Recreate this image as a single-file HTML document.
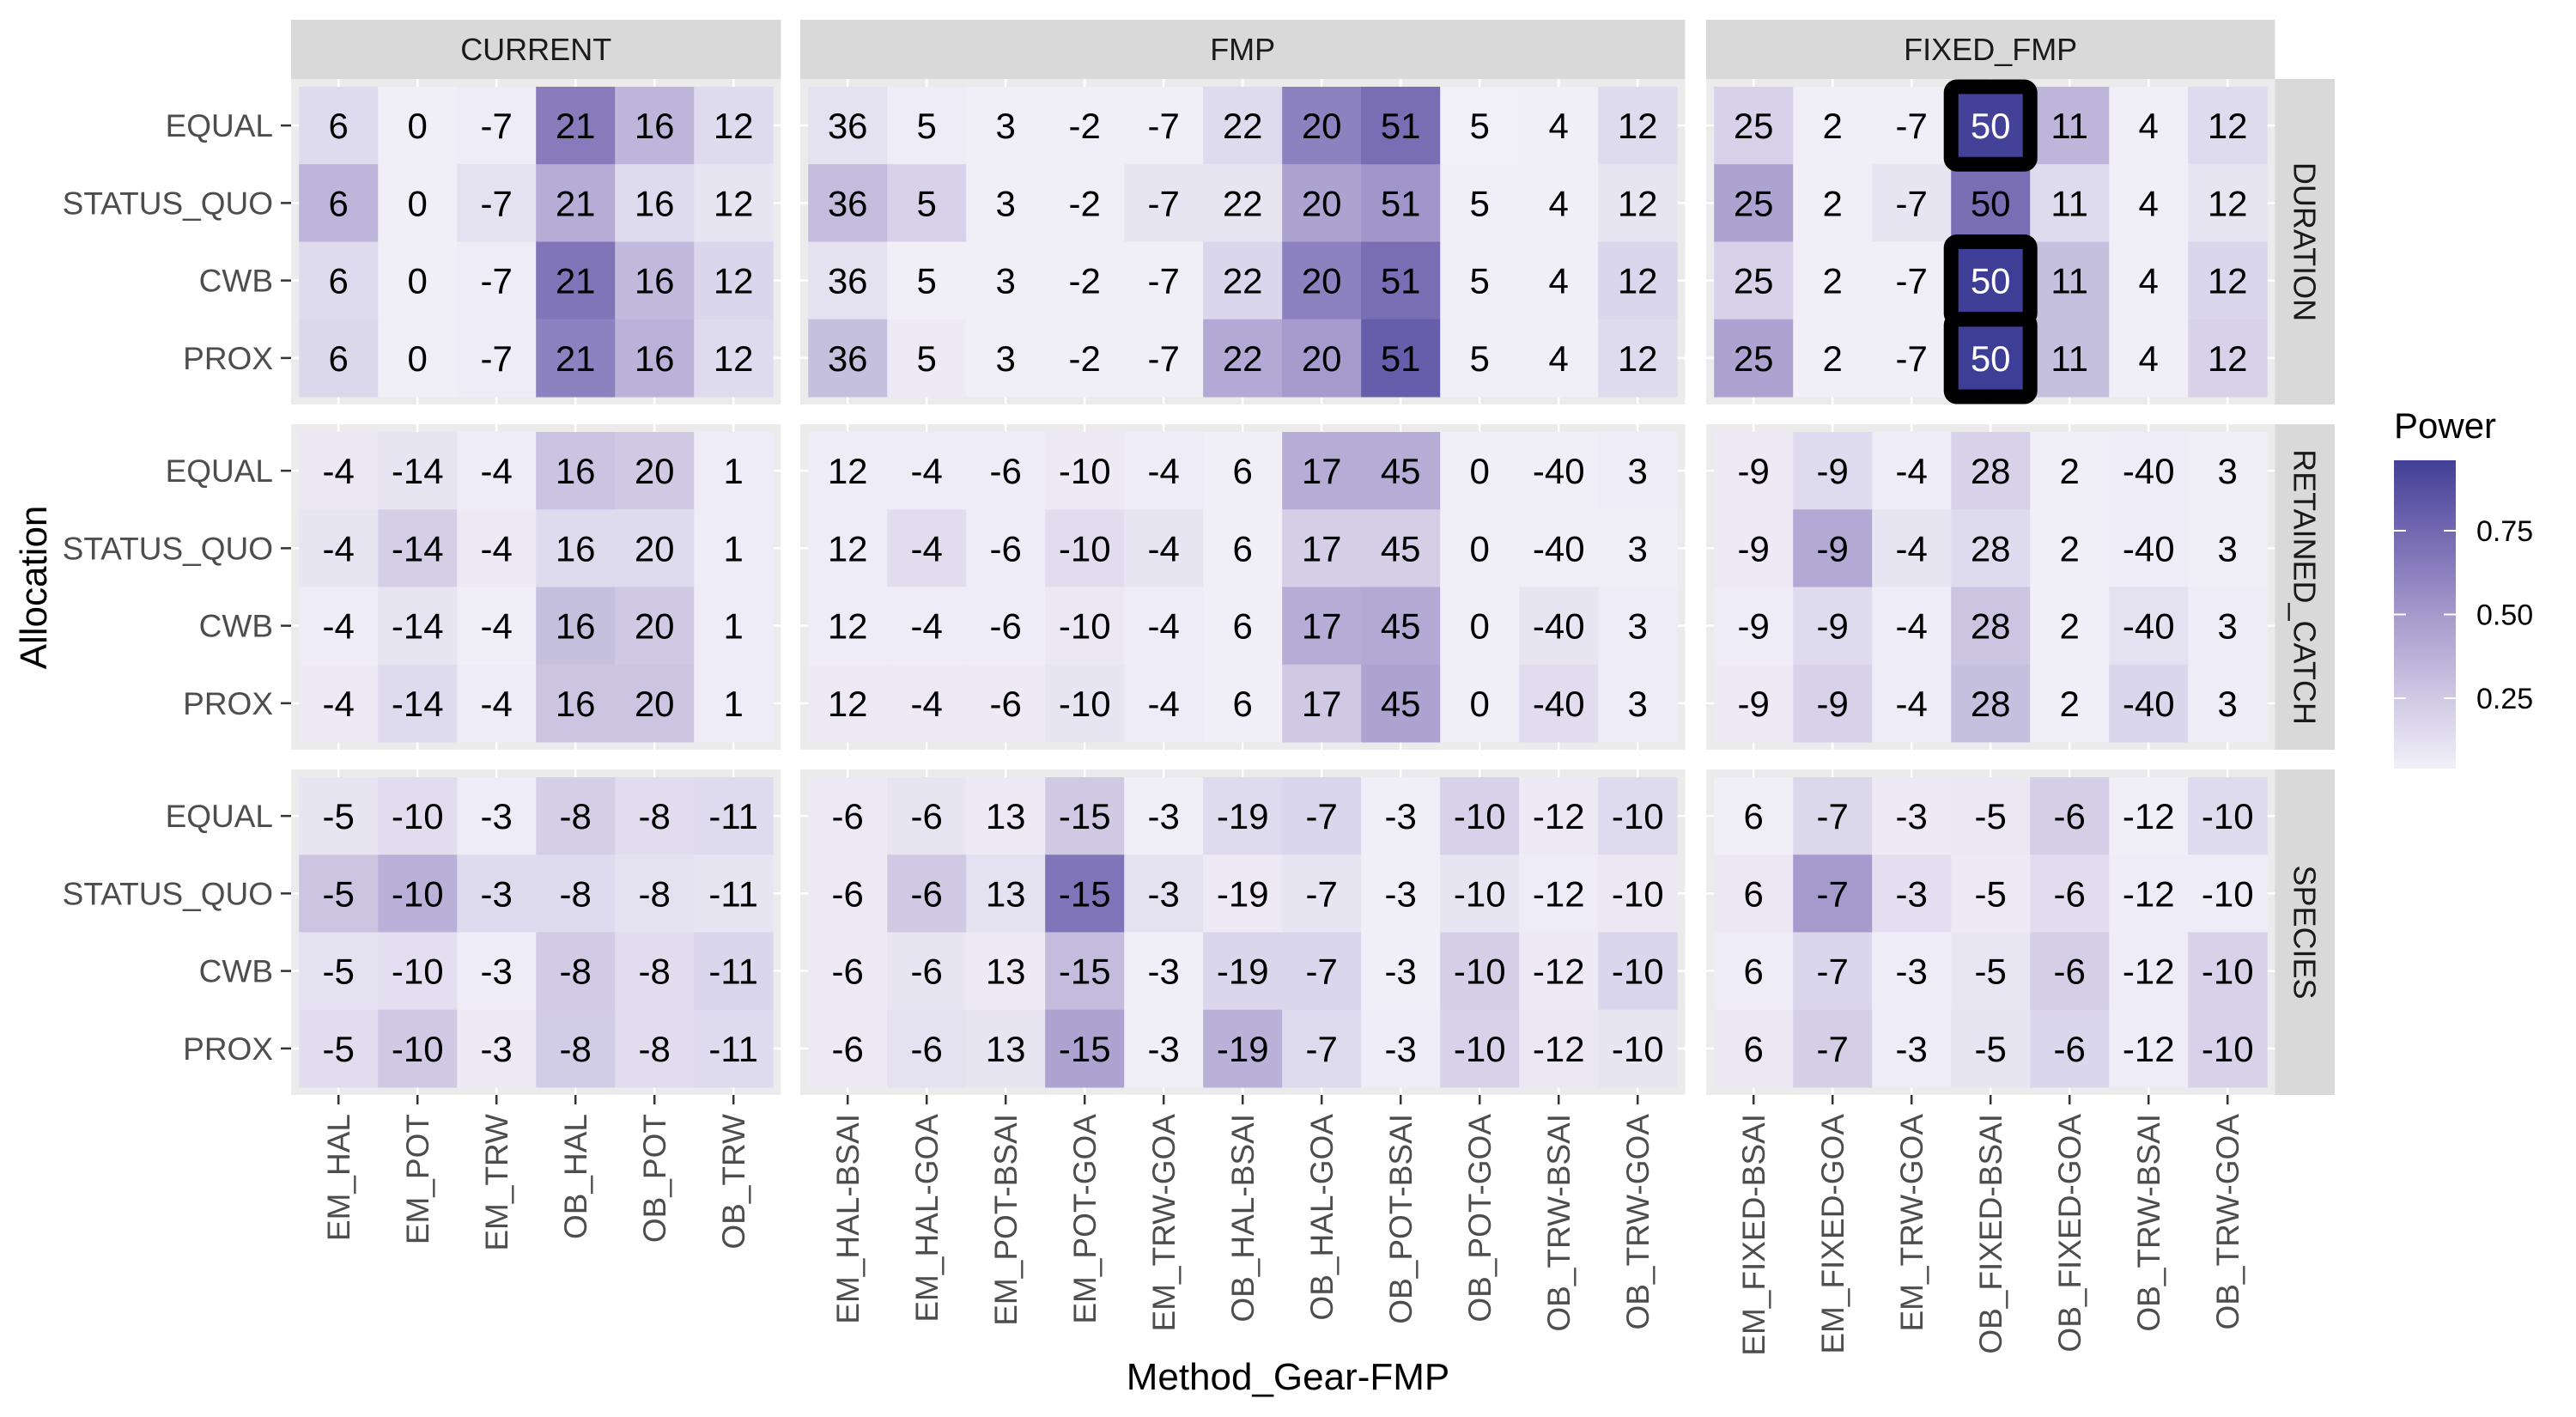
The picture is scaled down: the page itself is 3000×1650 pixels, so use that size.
<!DOCTYPE html>
<html><head><meta charset="utf-8"><style>
html,body{margin:0;padding:0;background:#fff;}
svg{display:block;font-family:"Liberation Sans",Arial,sans-serif;}
</style></head><body>
<svg id="chart" width="3000" height="1650" viewBox="0 0 3000 1650" xmlns="http://www.w3.org/2000/svg">
<g id="panels"></g>
<g id="legend"></g>
</svg>
<script>
// ---- data ----
const rowFacets = ["DURATION","RETAINED_CATCH","SPECIES"];
const colFacets = ["CURRENT","FMP","FIXED_FMP"];
const allocations = ["EQUAL","STATUS_QUO","CWB","PROX"];
const catsCurrent = ["EM_HAL","EM_POT","EM_TRW","OB_HAL","OB_POT","OB_TRW"];
const catsFmp = ["EM_HAL-BSAI","EM_HAL-GOA","EM_POT-BSAI","EM_POT-GOA","EM_TRW-GOA","OB_HAL-BSAI","OB_HAL-GOA","OB_POT-BSAI","OB_POT-GOA","OB_TRW-BSAI","OB_TRW-GOA"];
const catsFixed = ["EM_FIXED-BSAI","EM_FIXED-GOA","EM_TRW-GOA","OB_FIXED-BSAI","OB_FIXED-GOA","OB_TRW-BSAI","OB_TRW-GOA"];
// printed labels (percent change), per row facet x column facet
const labDurCurrent = [6,0,-7,21,16,12];
const labDurFmp = [36,5,3,-2,-7,22,20,51,5,4,12];
const labDurFixed = [25,2,-7,50,11,4,12];
const labRetCurrent = [-4,-14,-4,16,20,1];
const labRetFmp = [12,-4,-6,-10,-4,6,17,45,0,-40,3];
const labRetFixed = [-9,-9,-4,28,2,-40,3];
const labSpCurrent = [-5,-10,-3,-8,-8,-11];
const labSpFmp = [-6,-6,13,-15,-3,-19,-7,-3,-10,-12,-10];
const labSpFixed = [6,-7,-3,-5,-6,-12,-10];
// power values, rows = allocations
const powDurCurrent = [[0.15,0.05,0.06,0.65,0.35,0.15],[0.35,0.05,0.12,0.40,0.15,0.10],[0.15,0.05,0.06,0.68,0.33,0.18],[0.17,0.05,0.06,0.62,0.37,0.15]];
const powDurFmp = [[0.12,0.06,0.05,0.05,0.05,0.15,0.62,0.72,0.04,0.05,0.15],[0.32,0.20,0.05,0.05,0.10,0.10,0.45,0.52,0.05,0.05,0.10],[0.12,0.05,0.05,0.05,0.05,0.18,0.62,0.72,0.05,0.05,0.18],[0.30,0.07,0.05,0.05,0.05,0.42,0.50,0.80,0.05,0.05,0.15]];
const powDurFixed = [[0.20,0.05,0.05,0.95,0.35,0.05,0.15],[0.45,0.05,0.10,0.72,0.15,0.05,0.10],[0.20,0.05,0.05,0.97,0.30,0.05,0.18],[0.45,0.05,0.05,0.97,0.30,0.05,0.20]];
const powRetCurrent = [[0.08,0.10,0.06,0.28,0.25,0.06],[0.10,0.22,0.07,0.15,0.15,0.06],[0.06,0.10,0.05,0.30,0.25,0.06],[0.07,0.15,0.06,0.27,0.27,0.06]];
const powRetFmp = [[0.06,0.06,0.06,0.07,0.06,0.05,0.40,0.40,0.05,0.05,0.06],[0.06,0.14,0.06,0.14,0.10,0.05,0.22,0.22,0.05,0.05,0.05],[0.06,0.06,0.06,0.08,0.06,0.05,0.40,0.42,0.05,0.10,0.06],[0.07,0.07,0.07,0.10,0.06,0.05,0.25,0.45,0.05,0.14,0.06]];
const powRetFixed = [[0.07,0.15,0.06,0.20,0.05,0.06,0.05],[0.07,0.42,0.10,0.15,0.05,0.06,0.05],[0.06,0.15,0.06,0.27,0.05,0.12,0.06],[0.07,0.20,0.06,0.30,0.05,0.18,0.06]];
const powSpCurrent = [[0.10,0.14,0.06,0.22,0.14,0.15],[0.27,0.38,0.15,0.15,0.12,0.10],[0.12,0.13,0.06,0.24,0.14,0.18],[0.14,0.25,0.07,0.23,0.14,0.15]];
const powSpFmp = [[0.07,0.10,0.07,0.25,0.05,0.15,0.18,0.05,0.20,0.07,0.15],[0.07,0.25,0.12,0.68,0.12,0.07,0.10,0.05,0.10,0.06,0.08],[0.07,0.10,0.07,0.32,0.05,0.18,0.18,0.05,0.22,0.07,0.18],[0.07,0.12,0.10,0.45,0.05,0.38,0.15,0.06,0.20,0.08,0.10]];
const powSpFixed = [[0.05,0.17,0.07,0.08,0.22,0.05,0.15],[0.08,0.50,0.13,0.07,0.14,0.06,0.06],[0.06,0.18,0.06,0.09,0.22,0.06,0.20],[0.08,0.22,0.06,0.10,0.18,0.06,0.20]];
// highlighted cells: [rowFacet, colFacet, allocation, category]
const highlights = [["DURATION","FIXED_FMP","EQUAL","OB_FIXED-BSAI"],["DURATION","FIXED_FMP","CWB","OB_FIXED-BSAI"],["DURATION","FIXED_FMP","PROX","OB_FIXED-BSAI"]];
const legendTicks = [0.25,0.5,0.75];
const legendTickLabels = ["0.25","0.50","0.75"];

const cats = [catsCurrent,catsFmp,catsFixed];
const labels = [[labDurCurrent,labDurFmp,labDurFixed],[labRetCurrent,labRetFmp,labRetFixed],[labSpCurrent,labSpFmp,labSpFixed]];
const powers = [[powDurCurrent,powDurFmp,powDurFixed],[powRetCurrent,powRetFmp,powRetFixed],[powSpCurrent,powSpFmp,powSpFixed]];

// ---- layout ----
const NS="http://www.w3.org/2000/svg";
const CELL_W=92, CELL_H=90.25, PAD_X=9.2, PAD_Y=9;
const panelX0=[339,932,1987];
const panelY0=[92,494,896];
function panelW(ci){return cats[ci].length*CELL_W+2*PAD_X;}
const panelH=4*CELL_H+2*PAD_Y;
function xPos(ci,k){return panelX0[ci]+PAD_X+k*CELL_W;}
function yPos(ri,a){return panelY0[ri]+PAD_Y+a*CELL_H;}

const stops=[[0,[0xF8,0xF7,0xFC]],[0.25,[0xCF,0xC9,0xE4]],[0.5,[0xA4,0x9A,0xCC]],[0.75,[0x73,0x67,0xB1]],[1,[0x38,0x38,0x92]]];
function color(v){
  v=Math.max(0,Math.min(1,v));
  for(let i=0;i<stops.length-1;i++){
    const [a,ca]=stops[i],[b,cb]=stops[i+1];
    if(v<=b){const t=(v-a)/(b-a);return "rgb("+ca.map((c,j)=>Math.round(c+(cb[j]-c)*t)).join(",")+")";}
  }
}
function el(tag,attrs,parent,text){
  const e=document.createElementNS(NS,tag);
  for(const k in attrs)e.setAttribute(k,attrs[k]);
  if(text!==undefined)e.textContent=text;
  parent.appendChild(e);return e;
}
const P=document.getElementById("panels");

// column strips
colFacets.forEach((cf,ci)=>{
  const s=el("rect",{x:panelX0[ci],y:23,width:panelW(ci),height:69,fill:"#D9D9D9"},P);
  
  
  const t=el("text",{x:panelX0[ci]+panelW(ci)/2,y:70,"text-anchor":"middle","font-size":36,fill:"#1A1A1A"},P,cf);
  
  
});
// row strips
rowFacets.forEach((rf,ri)=>{
  const x=2649, w=70;
  const s=el("rect",{x:x,y:panelY0[ri],width:w,height:panelH,fill:"#D9D9D9"},P);
  
  
  const cx=x+w/2, cy=panelY0[ri]+panelH/2;
  const t=el("text",{x:cx,y:cy,"text-anchor":"middle","dominant-baseline":"central","font-size":36,fill:"#1A1A1A",transform:"rotate(90 "+cx+" "+cy+")"},P,rf);
  
  
});

rowFacets.forEach((rf,ri)=>{
  colFacets.forEach((cf,ci)=>{
    const g=el("g",{},P);
    
    
    el("rect",{x:panelX0[ci],y:panelY0[ri],width:panelW(ci),height:panelH,fill:"#EBEBEB"},g);
    cats[ci].forEach((c,k)=>{
      const x=xPos(ci,k)+CELL_W/2;
      el("line",{x1:x,x2:x,y1:panelY0[ri],y2:panelY0[ri]+panelH,stroke:"#fff","stroke-width":2.5},g);
    });
    allocations.forEach((a,ai)=>{
      const y=yPos(ri,ai)+CELL_H/2;
      el("line",{x1:panelX0[ci],x2:panelX0[ci]+panelW(ci),y1:y,y2:y,stroke:"#fff","stroke-width":2.5},g);
    });
    allocations.forEach((a,ai)=>{
      cats[ci].forEach((c,k)=>{
        const v=powers[ri][ci][ai][k];
        const r=el("rect",{x:xPos(ci,k),y:yPos(ri,ai),width:CELL_W+0.5,height:CELL_H+0.5,fill:color(v)},g);
        
        
      });
    });
    highlights.forEach(h=>{
      if(h[0]!==rf||h[1]!==cf)return;
      const ai=allocations.indexOf(h[2]),k=cats[ci].indexOf(h[3]);
      const b=el("rect",{x:xPos(ci,k),y:yPos(ri,ai),width:CELL_W,height:CELL_H,fill:"none",stroke:"#000","stroke-width":17,rx:7},g);
      
      
    });
    allocations.forEach((a,ai)=>{
      cats[ci].forEach((c,k)=>{
        const hl=highlights.some(h=>h[0]===rf&&h[1]===cf&&h[2]===a&&h[3]===c);
        const t=el("text",{x:xPos(ci,k)+CELL_W/2,y:yPos(ri,ai)+CELL_H/2+15,"text-anchor":"middle","font-size":42,fill:hl?"#fff":"#000"},g,String(labels[ri][ci][k]));
        
        
      });
    });
    if(ci===0){
      allocations.forEach((a,ai)=>{
        const y=yPos(ri,ai)+CELL_H/2;
        el("line",{x1:327,x2:339,y1:y,y2:y,stroke:"#333","stroke-width":2.5},P);
        const t=el("text",{x:318,y:y+13,"text-anchor":"end","font-size":37,fill:"#4D4D4D"},P,a);
        
        
      });
    }
    if(ri===2){
      cats[ci].forEach((c,k)=>{
        const x=xPos(ci,k)+CELL_W/2, y0=panelY0[ri]+panelH;
        el("line",{x1:x,x2:x,y1:y0,y2:y0+11,stroke:"#333","stroke-width":2.5},P);
        const t=el("text",{x:x+13,y:y0+22,"text-anchor":"end","font-size":37,fill:"#4D4D4D",transform:"rotate(-90 "+(x+13)+" "+(y0+22)+")"},P,c);
        
        
      });
    }
  });
});

const xt=el("text",{x:1500,y:1618,"text-anchor":"middle","font-size":44,fill:"#000"},P,"Method_Gear-FMP");


const yt=el("text",{x:54,y:684,"text-anchor":"middle","font-size":44,fill:"#000",transform:"rotate(-90 54 684)"},P,"Allocation");



// legend
const L=document.getElementById("legend");
const LX=2788,LW=72,LT=536,LB=895,V0=0.04,V1=0.96;
function ly(v){return LB-(v-V0)/(V1-V0)*(LB-LT);}
const defs=el("defs",{},L);
const grad=el("linearGradient",{id:"pg",x1:0,y1:1,x2:0,y2:0},defs);
for(let i=0;i<=20;i++){const v=V0+(V1-V0)*i/20;el("stop",{offset:(i/20),"stop-color":color(v)},grad);}
const lt=el("text",{x:2788,y:510,"font-size":42,fill:"#000"},L,"Power");


const bar=el("rect",{x:LX,y:LT,width:LW,height:LB-LT,fill:"url(#pg)"},L);


legendTicks.forEach((v,i)=>{
  const y=ly(v);
  el("line",{x1:LX,x2:LX+14,y1:y,y2:y,stroke:"#fff","stroke-width":2},L);
  el("line",{x1:LX+LW-14,x2:LX+LW,y1:y,y2:y,stroke:"#fff","stroke-width":2},L);
  const t=el("text",{x:2884,y:y+12,"font-size":34,fill:"#000"},L,legendTickLabels[i]);
  
  
});
</script>
</body></html>
